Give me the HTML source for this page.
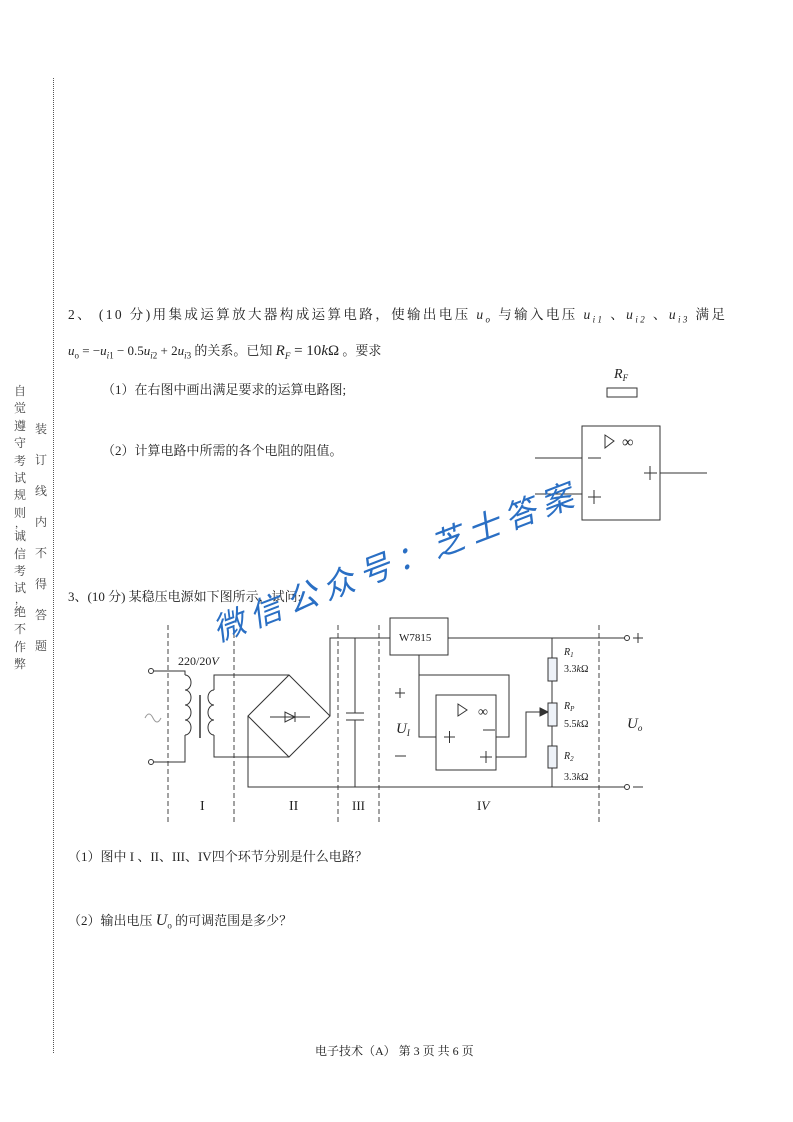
<!DOCTYPE html>
<html><head><meta charset="utf-8"><style>
body{margin:0;width:793px;height:1122px;background:#fff;position:relative;overflow:hidden;font-family:"Liberation Serif","Noto Serif CJK SC",serif;color:#222}
.t{position:absolute;font-size:13px;white-space:nowrap}
.v{position:absolute;font-size:12px;line-height:17.4px;width:14px;text-align:center;color:#444}
.c{display:block;line-height:6px;height:6px;font-size:10px}
i{font-style:italic}
</style></head><body>
<div style="position:absolute;left:53px;top:78px;height:975px;border-left:1px dotted #555"></div>
<div class="v" style="left:13px;top:383px">自<br>觉<br>遵<br>守<br>考<br>试<br>规<br>则<span class="c">，</span>诚<br>信<br>考<br>试<span class="c">，</span>绝<br>不<br>作<br>弊</div>
<div class="v" style="left:34px;top:414px;line-height:31px">装<br>订<br>线<br>内<br>不<br>得<br>答<br>题</div>

<div class="t" style="left:68px;top:303px;letter-spacing:2.4px;font-size:13.5px">2、 (10 分)用集成运算放大器构成运算电路，使输出电压 <i>u<sub style="font-size:9px">o</sub></i> 与输入电压 <i>u<sub style="font-size:9px">i1</sub></i> 、<i>u<sub style="font-size:9px">i2</sub></i> 、<i>u<sub style="font-size:9px">i3</sub></i> 满足</div>
<div class="t" style="left:68px;top:340px"><i>u</i><sub style="font-size:9px">o</sub> = −<i>u</i><sub style="font-size:9px"><i>i</i>1</sub> − 0.5<i>u</i><sub style="font-size:9px"><i>i</i>2</sub> + 2<i>u</i><sub style="font-size:9px"><i>i</i>3</sub> 的关系。已知 <span style="font-size:15px"><i>R<sub style="font-size:9px">F</sub></i> = 10<i>k</i>Ω</span> 。要求</div>
<div class="t" style="left:102px;top:379px">（1）在右图中画出满足要求的运算电路图;</div>
<div class="t" style="left:102px;top:440px">（2）计算电路中所需的各个电阻的阻值。</div>
<div class="t" style="left:68px;top:586px">3、(10 分) 某稳压电源如下图所示，试问:</div>
<div class="t" style="left:68px;top:846px">（1）图中 I 、II、III、IV四个环节分别是什么电路？</div>
<div class="t" style="left:68px;top:910px">（2）输出电压 <i style="font-size:16px">U</i><sub style="font-size:9px">o</sub> 的可调范围是多少？</div>
<div class="t" style="left:315px;top:1042px;font-size:12px">电子技术（A） 第 3 页 共 6 页</div>

<svg width="793" height="1122" style="position:absolute;left:0;top:0" font-family="Liberation Serif, serif">
<g stroke="#333" fill="none" stroke-width="1">
<rect x="607" y="388" width="30" height="9"/>
<rect x="582" y="426" width="78" height="94"/>
<line x1="535" y1="458" x2="582" y2="458"/><line x1="535" y1="494" x2="582" y2="494"/>
<line x1="660" y1="473" x2="707" y2="473"/>
<line x1="588" y1="458" x2="601" y2="458"/>
<line x1="588" y1="497" x2="601" y2="497"/><line x1="594" y1="490" x2="594" y2="504"/>
<line x1="644" y1="473" x2="657" y2="473"/><line x1="650" y1="466" x2="650" y2="480"/>
<polygon points="605,435 605,448 614,441"/>
<g stroke-dasharray="5,3" stroke="#444">
<line x1="168" y1="625" x2="168" y2="823"/><line x1="234" y1="625" x2="234" y2="823"/>
<line x1="338" y1="625" x2="338" y2="823"/><line x1="379" y1="625" x2="379" y2="823"/>
<line x1="599" y1="625" x2="599" y2="823"/></g>
<circle cx="151" cy="671" r="2.5"/><circle cx="151" cy="762" r="2.5"/>
<polyline points="154,671 185,671 185,675"/><polyline points="154,762 185,762 185,735"/>
<path d="M185,675 a6,7.5 0 0 1 0,15 a6,7.5 0 0 1 0,15 a6,7.5 0 0 1 0,15 a6,7.5 0 0 1 0,15"/>
<line x1="200" y1="695" x2="200" y2="738" stroke-width="1.5"/>
<path d="M214,690 a6,7.5 0 0 0 0,15 a6,7.5 0 0 0 0,15 a6,7.5 0 0 0 0,15"/>
<polyline points="214,690 214,675 289,675"/><polyline points="214,735 214,757 289,757"/>
<path d="M145,718 q4,-8 8,0 t8,0" stroke="#999"/>
<polygon points="289,675 330,716 289,757 248,716"/>
<line x1="270" y1="717" x2="310" y2="717"/>
<polygon points="285,712 285,722 295,717"/><line x1="295" y1="712" x2="295" y2="722"/>
<polyline points="330,716 330,638 390,638"/>
<polyline points="248,716 248,787 552,787"/>
<line x1="552" y1="787" x2="625" y2="787"/><circle cx="627" cy="787" r="2.5"/>
<line x1="448" y1="638" x2="625" y2="638"/><circle cx="627" cy="638" r="2.5"/>
<line x1="355" y1="638" x2="355" y2="713"/><line x1="355" y1="720" x2="355" y2="787"/>
<line x1="346" y1="713" x2="364" y2="713"/><line x1="346" y1="720" x2="364" y2="720"/>
<rect x="390" y="618" width="58" height="37"/>
<polyline points="419,655 419,675 509,675 509,737 496,737"/>
<polyline points="419,675 419,737 436,737"/>
<rect x="436" y="695" width="60" height="75"/>
<polygon points="458,704 458,716 467,710"/>
<polyline points="496,757 526,757 526,712 545,712"/>
<polygon points="540,708 548,712 540,716" fill="#333"/>
<line x1="444" y1="737" x2="455" y2="737"/><line x1="449.5" y1="731" x2="449.5" y2="743"/>
<line x1="483" y1="730" x2="495" y2="730"/>
<line x1="480" y1="757" x2="492" y2="757"/><line x1="486" y1="751" x2="486" y2="763"/>
<line x1="395" y1="693" x2="405" y2="693"/><line x1="400" y1="688" x2="400" y2="698"/>
<line x1="395" y1="756" x2="406" y2="756"/>
<line x1="552" y1="638" x2="552" y2="787"/>
<rect x="548" y="658" width="9" height="23" fill="#eef2f8"/>
<rect x="548" y="703" width="9" height="23" fill="#eef2f8"/>
<rect x="548" y="746" width="9" height="22" fill="#eef2f8"/>
<line x1="633" y1="638" x2="643" y2="638"/><line x1="638" y1="633" x2="638" y2="643"/>
<line x1="633" y1="787" x2="643" y2="787"/>
</g>
<g fill="#222" font-size="12">
<text x="614" y="378" font-size="14" font-style="italic">R<tspan font-size="9" dy="3">F</tspan></text>
<text x="622" y="447" font-size="16">∞</text>
<text x="478" y="716" font-size="14">∞</text>
<text x="178" y="665" font-size="12">220/20<tspan font-style="italic">V</tspan></text>
<text x="399" y="641" font-size="11">W7815</text>
<text x="396" y="733" font-size="15" font-style="italic">U<tspan font-size="9" dy="3">I</tspan></text>
<text x="564" y="655" font-size="10" font-style="italic">R<tspan font-size="7" dy="2">1</tspan></text>
<text x="564" y="672" font-size="10">3.3<tspan font-style="italic">k</tspan>Ω</text>
<text x="564" y="709" font-size="10" font-style="italic">R<tspan font-size="7" dy="2">P</tspan></text>
<text x="564" y="727" font-size="10">5.5<tspan font-style="italic">k</tspan>Ω</text>
<text x="564" y="759" font-size="10" font-style="italic">R<tspan font-size="7" dy="2">2</tspan></text>
<text x="564" y="780" font-size="10">3.3<tspan font-style="italic">k</tspan>Ω</text>
<text x="627" y="728" font-size="15" font-style="italic">U<tspan font-size="9" dy="3">o</tspan></text>
<text x="200" y="810" font-size="14">I</text>
<text x="289" y="810" font-size="14">II</text>
<text x="352" y="810" font-size="13">III</text>
<text x="477" y="810" font-size="13">I<tspan font-style="italic">V</tspan></text>
</g>
<text x="0" y="0" transform="translate(218,642) rotate(-21)" font-family="Noto Sans CJK SC, sans-serif" font-size="32" font-style="italic" fill="#2a6fc4" letter-spacing="7">微信公众号：芝士答案</text>
</svg>
</body></html>
